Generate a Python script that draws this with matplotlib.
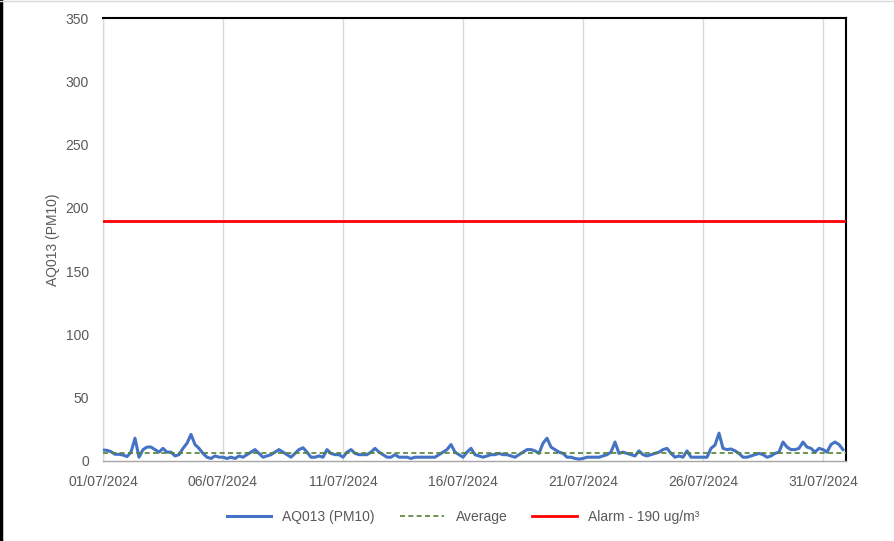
import numpy as np
import pandas as pd
import matplotlib
matplotlib.use("Agg")
import matplotlib.pyplot as plt
import matplotlib.dates as mdates
from matplotlib.lines import Line2D

# 4-hourly PM10 readings, 01/07/2024 00:00 onward (6 per day)
pm10 = [
    8.7, 8.4, 7.4, 5.3, 5.3, 4.7,
    3.5, 7, 18, 3, 9, 11,
    11, 9, 7, 10, 7, 7,
    4, 5, 10, 14, 21, 13,
    10, 6, 3, 2, 4, 3,
    3, 2, 3, 2, 4, 3,
    5, 7, 9, 6, 3, 4,
    5, 7, 9, 7, 5, 3,
    6, 9, 10.5, 7, 3, 3,
    4, 3, 9, 6, 5, 5,
    3, 7, 9, 6, 5, 5,
    5, 7, 10, 7, 5, 3,
    3, 5, 3, 3, 3, 2,
    3, 3, 3, 3, 3, 3,
    5, 7, 9, 13, 7, 5,
    3, 7, 10, 5, 4, 3,
    4, 5, 5, 6, 5, 5,
    4, 3, 5, 7, 9, 9,
    8, 6, 14, 18, 11, 9,
    7, 6, 3, 3, 2, 1.5,
    2, 3, 3, 3, 3, 4,
    5, 7, 15, 6, 7, 6,
    5, 4, 8, 5, 4, 5,
    6, 7, 9, 10, 6, 3,
    4, 3, 8, 3, 3, 3,
    3, 3, 10, 12.6, 22, 10,
    9, 9.5, 8, 6, 3, 3,
    4, 5, 6, 5, 3, 4,
    6, 7, 15, 11, 9, 9,
    10, 15, 11, 10, 7, 10,
    9, 7, 13, 15, 13, 9,
]
times = pd.date_range("2024-07-01 00:00", periods=len(pm10), freq="4h")
average_value = 6.3
alarm_value = 190
start = pd.Timestamp("2024-07-01 00:00")
end = pd.Timestamp("2024-07-31 23:00")
tick_dates = pd.date_range("2024-07-01", "2024-07-31", freq="5D")

plt.rcParams["font.family"] = ["Liberation Sans", "DejaVu Sans"]

fig = plt.figure(figsize=(8.95, 5.41), dpi=100)
ax = fig.add_axes([103/895, 1-461/541, (846-103)/895, (461-18)/541])

blue = "#4472C4"
green = "#548235"
red = "#FF0000"

ax.plot(times, pm10, color=blue, lw=2.2, solid_joinstyle="round", zorder=3)
ax.plot([start, end], [average_value, average_value], color=green, lw=1.2,
        ls=(0, (3, 2)), zorder=4)
ax.plot([start, end], [alarm_value, alarm_value], color=red, lw=2.0, zorder=3)

ax.set_xlim(start, end)
ax.set_ylim(0, 350)
ax.set_yticks(range(0, 351, 50))
ax.set_xticks(tick_dates)
ax.xaxis.set_major_formatter(mdates.DateFormatter("%d/%m/%Y"))

ax.grid(axis="x", color="#D9D9D9", lw=1.0)
ax.set_axisbelow(True)
ax.tick_params(axis="both", length=0, labelsize=10, colors="#595959")
ax.tick_params(axis="x", pad=10)
ax.tick_params(axis="y", pad=10)

for side in ["top", "right"]:
    ax.spines[side].set_color("black")
    ax.spines[side].set_linewidth(1.5)
ax.spines["left"].set_color("#D9D9D9")
ax.spines["left"].set_linewidth(1.0)
ax.spines["bottom"].set_color("#A6A6A6")
ax.spines["bottom"].set_linewidth(1.0)

ax.set_ylabel("AQ013 (PM10)", fontsize=10, color="#595959", labelpad=4)

handles = [
    Line2D([], [], color=blue, lw=2.2),
    Line2D([], [], color=green, lw=1.2, ls=(0, (3, 2))),
    Line2D([], [], color=red, lw=2.0),
]
labels = ["AQ013 (PM10)", "Average", "Alarm - 190 ug/m³"]
fig.legend(handles, labels, loc="center", bbox_to_anchor=(463/895, 1-517/541),
           ncol=3, frameon=False, fontsize=10, handlelength=3.2,
           columnspacing=1.8, labelcolor="#595959")

# figure border lines
fig.add_artist(Line2D([0.0015, 0.0015], [0, 1], transform=fig.transFigure,
                      color="black", lw=2.5))
fig.add_artist(Line2D([0, 1], [0.999, 0.999], transform=fig.transFigure,
                      color="#D9D9D9", lw=1.0))

fig.savefig("out.png", dpi=100)
